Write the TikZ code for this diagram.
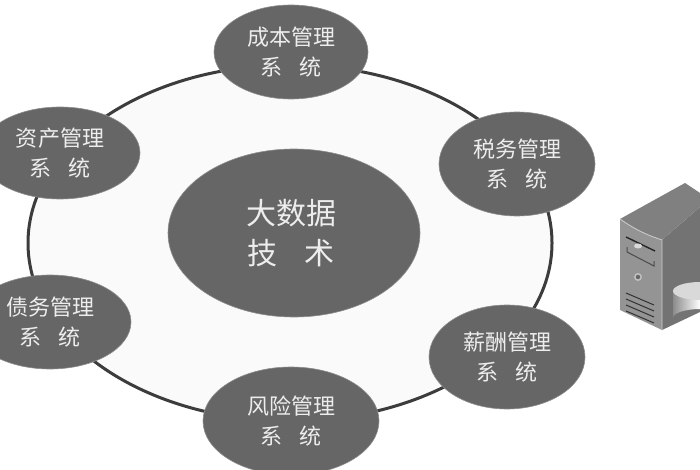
\documentclass[tikz,border=0pt]{standalone}
\usepackage{fontspec}
\setmainfont{Noto Sans CJK SC}
\usetikzlibrary{shapes.geometric,shadings}
\definecolor{blobfill}{HTML}{666666}
\definecolor{ringline}{HTML}{3C3C3C}
\tikzset{
  blob/.style={ellipse,fill=blobfill,draw=black!45,line width=0.6pt,text=white!93!black,inner sep=0pt,outer sep=0pt,align=center,font=\fontsize{22}{30}\selectfont,minimum width=#1},
  ringstyle/.style={draw=ringline,line width=3pt,fill=black!2},
}
\begin{document}
\begin{tikzpicture}[x=1pt,y=-1pt]
\useasboundingbox (0,0) rectangle (700,470);
\fill[white] (0,0) rectangle (700,470);
\begin{scope}
\clip (0,0) rectangle (700,470);
\draw[ringstyle] (290,243) ellipse [x radius=262,y radius=178];
\node[blob=154pt,minimum height=94pt] (cost) at (291,52) {成本管理\\系\hspace{0.8em}统};
\node[blob=156pt,minimum height=104pt] (tax) at (517,164) {税务管理\\系\hspace{0.8em}统};
\node[blob=156pt,minimum height=104pt] (pay) at (507,357) {薪酬管理\\系\hspace{0.8em}统};
\node[blob=176pt,minimum height=108pt] (risk) at (291,421) {风险管理\\系\hspace{0.8em}统};
\node[blob=162pt,minimum height=94pt] (debt) at (50,322) {债务管理\\系\hspace{0.8em}统};
\node[blob=160pt,minimum height=92pt] (asset) at (60,153) {资产管理\\系\hspace{0.8em}统};
\node[blob=252pt,minimum height=168pt,font=\fontsize{30}{40}\selectfont] (core) at (294,233) {大数据\hspace*{6pt}\\技\hspace{0.9em}术\hspace*{6pt}};
% server
\fill[black!55] (662,240) -- (700,207) -- (700,312) -- (662,330) -- cycle;
\fill[black!50] (620,219) -- (685,183) -- (700,193) -- (700,207) -- (662,240) to[bend left=8] cycle;
\fill[black!42] (620,219) to[bend right=8] (662,240) -- (662,330) -- (620,310) -- cycle;
\draw[white!80!black,line width=0.8pt] (620,219) to[bend right=8] (662,240) -- (662,330);
\draw[black!85,line width=1.4pt] (626,237) -- (655,251);
\fill[white!85!black] (638,246) ellipse [x radius=4,y radius=2.5];
\draw[black!70,line width=1pt] (627,247) -- (627,252) -- (654,266) -- (654,261);
\fill[white!75!black] (638,277) circle (4);
\fill[black!60] (638,277) circle (2.2);
\foreach \d in {0,6,12,18}{\draw[black!80,line width=1pt] (626,293+\d) -- (654,305+\d);}
\path[left color=black!45,right color=white] (673,291) -- (673,318) arc[start angle=180,end angle=90,x radius=27,y radius=-9] -- (700,291) -- cycle;
\fill[white!85!black] (700,291) ellipse [x radius=27,y radius=9];
\end{scope}
\end{tikzpicture}
\end{document}
